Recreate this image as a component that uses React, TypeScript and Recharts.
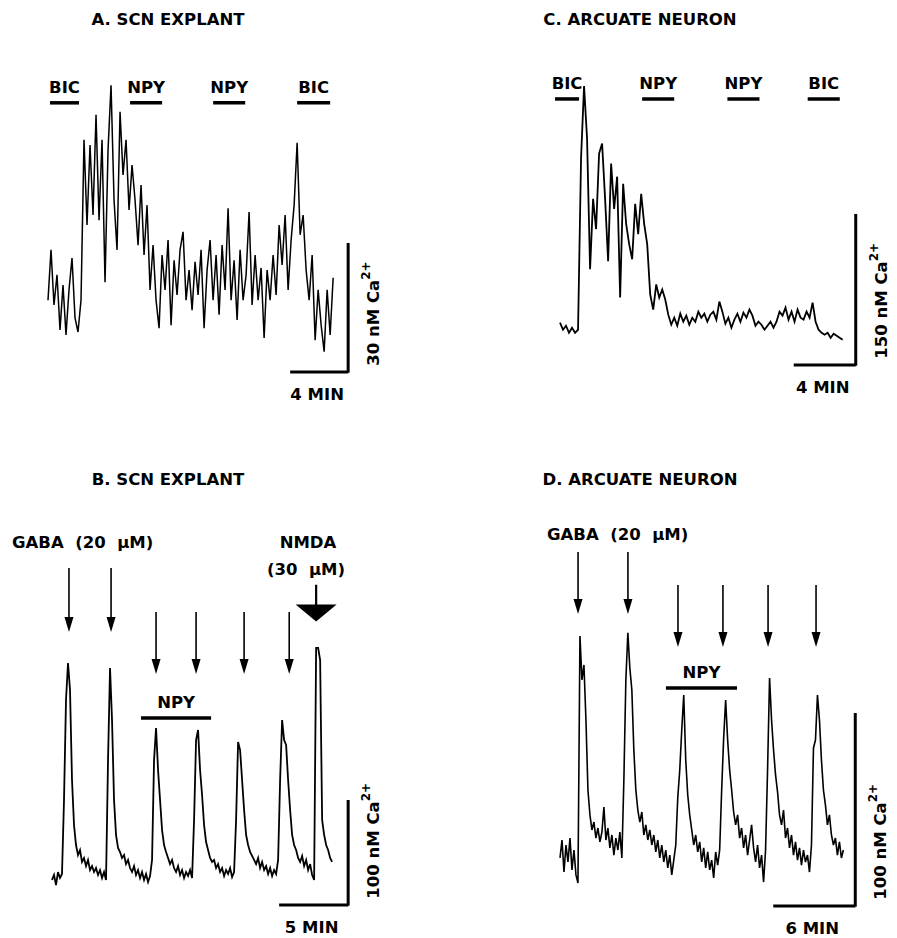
import { LineChart, Line, XAxis, YAxis, ReferenceLine } from 'recharts';

// Ca2+ traces. Values are nM Ca2+ above the origin of
// each panel's scale bar; samples are evenly spaced (dt in minutes).
const A_DT = 0.207;
const A_TRACE = [
  16.7, 28.4, 15.6, 22.6, 9.8, 20.2, 8.6, 19.1, 26.5, 12.6, 9.3, 16.7,
  54.0, 34.2, 52.8, 36.5, 59.8, 35.3, 54.0, 20.9, 51.6, 66.7, 40.0, 28.4, 60.5, 45.8, 54.0, 37.7, 48.1,
  40.0, 29.5, 43.5, 27.2, 38.8, 19.1, 29.5, 16.7, 10.2, 27.2, 19.1, 30.7, 10.9, 26.0, 17.9, 28.4, 32.6,
  16.7, 23.7, 14.4, 25.6, 17.9, 28.4, 10.2, 23.7, 30.7, 16.7, 27.2, 13.3, 29.5, 19.1, 38.1, 16.7, 26.0,
  12.1, 28.4, 16.7, 22.6, 37.2, 15.6, 27.2, 16.7, 24.2, 7.9, 23.7, 16.7, 27.2, 17.9, 34.2, 24.9, 36.5,
  19.1, 30.7, 38.8, 53.3, 31.9, 36.5, 23.7, 16.7, 27.2, 7.4, 19.1, 10.9, 4.7, 19.1, 8.6, 21.9,
];

const C_DT = 0.194;
const C_TRACE = [
  42, 35, 39, 32, 37, 32, 35,
  205, 277, 225, 95, 165, 135, 210, 220, 165, 103, 200, 155, 187, 67, 180, 140, 120, 105, 160, 130, 170, 140, 120, 70,
  55, 80, 67, 75, 65, 50, 40, 47, 39, 51, 43, 49, 40, 47, 43, 53, 47, 51, 43, 50, 53, 45, 63, 53,
  41, 47, 37, 45, 51, 43, 52, 47, 55, 49, 39, 43, 40, 35, 39, 43, 37, 43, 53, 49, 57, 45, 53, 43,
  55, 47, 45, 53, 47, 62, 43, 35, 32, 30, 32, 27, 31, 29, 27, 25,
];

const B_DT = 0.145;
const B_TRACE = [
  23.8, 28.6, 19.0, 31.4, 25.7, 29.5,
  100.0, 195.2, 230.5, 204.8, 119.0, 76.2, 57.1, 47.6, 52.4, 41.0, 44.8, 37.1, 42.9, 33.3, 37.1, 31.4, 35.2, 28.6, 33.3, 25.7, 31.4, 23.8,
  138.1, 225.7, 176.2, 100.0, 66.7, 54.3, 50.5, 44.8, 47.6, 39.0, 42.9, 35.2, 31.4, 37.1, 28.6, 33.3, 25.7, 31.4, 23.8, 29.5, 21.9, 27.6,
  42.9, 138.1, 168.6, 128.6, 100.0, 71.4, 57.1, 50.5, 44.8, 39.0, 42.9, 35.2, 31.4, 37.1, 28.6, 33.3, 25.7, 31.4, 27.6, 33.3, 25.7,
  81.0, 157.1, 166.7, 128.6, 104.8, 76.2, 60.0, 52.4, 44.8, 41.0, 42.9, 35.2, 39.0, 31.4, 35.2, 27.6, 33.3, 29.5, 35.2, 26.7, 31.4,
  81.0, 155.2, 147.6, 119.0, 90.5, 66.7, 57.1, 50.5, 46.7, 42.9, 39.0, 44.8, 35.2, 41.0, 33.3, 37.1, 29.5, 35.2, 27.6, 33.3, 29.5, 42.9,
  119.0, 176.2, 157.1, 152.4, 119.0, 90.5, 66.7, 57.1, 52.4, 44.8, 41.0, 46.7, 37.1, 42.9, 33.3, 39.0, 28.6, 23.8,
  244.8, 244.8, 233.3, 81.0, 66.7, 57.1, 52.4, 44.8, 41.0,
];

const D_DT = 0.146;
const D_TRACE = [
  24.9, 34.2, 17.6, 31.6, 22.8, 35.2, 18.7, 29.0, 16.1, 11.9,
  139.9, 117.1, 124.9, 96.4, 60.1, 47.2, 39.4, 43.5, 35.2, 40.4, 33.2, 38.3, 51.3, 34.2, 40.4, 30.1, 36.8, 26.4, 35.2, 29.0, 38.3, 24.9,
  65.3, 117.1, 141.5, 123.3, 111.9, 80.8, 60.1, 49.7, 43.5, 48.7, 36.8, 42.0, 34.2, 39.4, 31.6, 36.8, 28.0, 34.2, 24.9, 31.6, 22.8, 29.0, 19.7, 26.4, 16.1, 23.8,
  31.6, 56.0, 70.5, 91.2, 109.3, 75.6, 57.5, 47.2, 39.4, 31.6, 36.8, 28.0, 33.2, 22.8, 30.1, 19.7, 28.0, 18.7, 23.8, 14.5, 28.0, 21.2, 29.0,
  60.1, 87.0, 106.7, 86.0, 70.5, 60.1, 48.7, 42.0, 47.2, 35.2, 40.4, 30.1, 36.8, 26.4, 34.2, 42.0, 30.1, 22.8, 31.6, 19.7, 26.4, 12.4, 29.0,
  70.5, 118.1, 96.4, 80.8, 67.9, 59.1, 47.2, 42.0, 49.7, 35.2, 40.4, 30.1, 36.8, 26.4, 33.2, 23.8, 30.1, 21.2, 29.0, 22.8, 26.4, 17.6, 31.6,
  81.9, 86.0, 109.3, 96.4, 75.6, 60.1, 52.3, 42.0, 47.2, 36.8, 31.6, 35.2, 26.4, 33.2, 24.9, 29.0,
];

// drug applications (minutes)
const A_DRUGS = [
  { label: 'BIC', from: 0.14, to: 2.14 },
  { label: 'NPY', from: 5.66, to: 7.87 },
  { label: 'NPY', from: 11.39, to: 13.6 },
  { label: 'BIC', from: 17.18, to: 19.46 },
];
const C_DRUGS = [
  { label: 'BIC', from: -0.32, to: 1.23 },
  { label: 'NPY', from: 5.3, to: 7.37 },
  { label: 'NPY', from: 10.8, to: 12.87 },
  { label: 'BIC', from: 15.98, to: 18.05 },
];
const B_DRUGS = [{ label: 'NPY', from: 6.45, to: 11.53 }];
const D_DRUGS = [{ label: 'NPY', from: 7.75, to: 12.95 }];

// GABA pulses (minutes)
const B_GABA = [1.23, 4.28];
const B_PULSES = [7.54, 10.44, 13.92, 17.19];
const B_NMDA = 19.14;
const D_GABA = [1.32, 4.97];
const D_PULSES = [8.63, 11.92, 15.22, 18.73];

// scale bars: [minutes, nM]
const A_SCALE = [4, 30];
const C_SCALE = [4, 150];
const B_SCALE = [5, 100];
const D_SCALE = [6, 100];

const FONT = '"DejaVu Sans", Verdana, sans-serif';
const TXT = { fontFamily: FONT, fontWeight: 700, fontSize: 16.5, fill: '#000' };

type Frame = {
  left: number; top: number; w: number; h: number;
  x0: number; y0: number; kx: number; ky: number;
  scaleAt: number; barAt: number; lw: number;
};

const FA: Frame = { left: 0, top: 0, w: 448, h: 469, x0: 48, y0: 372, kx: 14.5, ky: 4.3, scaleAt: 20.7, barAt: 62.6, lw: 1.5 };
const FC: Frame = { left: 448, top: 0, w: 449, h: 469, x0: 560, y0: 365, kx: 15.5, ky: 1.007, scaleAt: 19.08, barAt: 264.2, lw: 1.8 };
const FB: Frame = { left: 0, top: 469, w: 448, h: 469, x0: 52, y0: 905, kx: 13.8, ky: 1.05, scaleAt: 21.46, barAt: 178.1, lw: 1.8 };
const FD: Frame = { left: 448, top: 469, w: 449, h: 469, x0: 560, y0: 906, kx: 13.67, ky: 1.93, scaleAt: 21.6, barAt: 113, lw: 1.6 };

const series = (vals: number[], dt: number) => vals.map((v, i) => ({ t: +(i * dt).toFixed(3), v }));

const drugLabel = (text: string) => (p: any) => {
  const { x, y, width } = p.viewBox;
  return (
    <text x={x + width / 2} y={y - 10} textAnchor="middle" style={TXT}>
      {text}
    </text>
  );
};

const timeLabel = (text: string) => (p: any) => {
  const { x, y, width } = p.viewBox;
  return (
    <text x={x + width / 2 - 2} y={y + 28} textAnchor="middle" style={TXT}>
      {text}
    </text>
  );
};

const concLabel = (nM: number) => (p: any) => {
  const { x, y, height } = p.viewBox;
  return (
    <text transform={`translate(${x + 31},${y + height - 7}) rotate(-90)`} style={TXT}>
      {nM} nM Ca
      <tspan dy={-9} fontSize={12}>2+</tspan>
    </text>
  );
};

const arrow = (headW: number, headH: number, stem: number) => (p: any) => {
  const { x1, y1, x2, y2 } = p;
  return (
    <g>
      <line x1={x1} y1={y1} x2={x2} y2={y2 - headH + 1} stroke="#000" strokeWidth={stem} />
      <polygon points={`${x2 - headW / 2},${y2 - headH} ${x2 + headW / 2},${y2 - headH} ${x2},${y2}`} fill="#000" />
    </g>
  );
};

function drugBars(f: Frame, drugs: { label: string; from: number; to: number }[]) {
  return drugs.map((d, i) => (
    <ReferenceLine
      key={`drug${i}`}
      segment={[{ x: d.from, y: f.barAt }, { x: d.to, y: f.barAt }]}
      stroke="#000"
      strokeWidth={3.5}
      ifOverflow="visible"
      label={drugLabel(d.label)}
    />
  ));
}

function scaleBar(f: Frame, [min, nM]: number[]) {
  return [
    <ReferenceLine
      key="sx"
      segment={[{ x: f.scaleAt - min, y: 0 }, { x: f.scaleAt, y: 0 }]}
      stroke="#000"
      strokeWidth={3}
      ifOverflow="visible"
      label={timeLabel(`${min} MIN`)}
    />,
    <ReferenceLine
      key="sy"
      segment={[{ x: f.scaleAt, y: -0.7 / f.ky }, { x: f.scaleAt, y: nM }]}
      stroke="#000"
      strokeWidth={3}
      ifOverflow="visible"
      label={concLabel(nM)}
    />,
  ];
}

function arrows(times: number[], top: number, tip: number, key: string, shape: any) {
  return times.map((t, i) => (
    <ReferenceLine
      key={`${key}${i}`}
      segment={[{ x: t, y: top }, { x: t, y: tip }]}
      ifOverflow="visible"
      shape={shape}
    />
  ));
}

function Trace({ f, data, children }: { f: Frame; data: { t: number; v: number }[]; children?: any }) {
  const xDom = [(f.left - f.x0) / f.kx, (f.left + f.w - f.x0) / f.kx];
  const yDom = [(f.y0 - (f.top + f.h)) / f.ky, (f.y0 - f.top) / f.ky];
  return (
    <div style={{ position: 'absolute', left: f.left, top: f.top }}>
      <LineChart width={f.w} height={f.h} data={data} margin={{ top: 0, right: 0, bottom: 0, left: 0 }}>
        <XAxis dataKey="t" type="number" domain={xDom} hide allowDataOverflow />
        <YAxis type="number" domain={yDom} hide allowDataOverflow />
        <Line
          type="linear"
          dataKey="v"
          stroke="#000"
          strokeWidth={f.lw}
          strokeLinejoin="miter"
          dot={false}
          activeDot={false}
          isAnimationActive={false}
        />
        {children}
      </LineChart>
    </div>
  );
}

function Caption({ x, y, text, center = true }: { x: number; y: number; text: string; center?: boolean }) {
  const style: any = {
    position: 'absolute',
    top: y - 10,
    lineHeight: '20px',
    fontFamily: FONT,
    fontWeight: 700,
    fontSize: 16.5,
    whiteSpace: 'pre',
    color: '#000',
  };
  if (center) {
    style.left = x - 200;
    style.width = 400;
    style.textAlign = 'center';
  } else {
    style.left = x;
  }
  return <div style={style}>{text}</div>;
}

const small = arrow(9, 15, 1.6);
const big = arrow(41, 17, 2.2);

export default function App() {
  return (
    <div style={{ position: 'absolute', left: 0, top: 0, width: 897, height: 938, background: '#fff', overflow: 'hidden' }}>
      <Caption x={168} y={20} text="A. SCN EXPLANT" />
      <Caption x={640} y={20} text="C. ARCUATE NEURON" />
      <Caption x={168} y={480} text="B. SCN EXPLANT" />
      <Caption x={640} y={480} text="D. ARCUATE NEURON" />
      <Caption x={12} y={543} text="GABA  (20  μM)" center={false} />
      <Caption x={308} y={543} text="NMDA" />
      <Caption x={306} y={570} text="(30  μM)" />
      <Caption x={547} y={535} text="GABA  (20  μM)" center={false} />

      <Trace f={FA} data={series(A_TRACE, A_DT)}>
        {drugBars(FA, A_DRUGS)}
        {scaleBar(FA, A_SCALE)}
      </Trace>
      <Trace f={FC} data={series(C_TRACE, C_DT)}>
        {drugBars(FC, C_DRUGS)}
        {scaleBar(FC, C_SCALE)}
      </Trace>
      <Trace f={FB} data={series(B_TRACE, B_DT)}>
        {drugBars(FB, B_DRUGS)}
        {scaleBar(FB, B_SCALE)}
        {arrows(B_GABA, 321, 260, 'g', small)}
        {arrows(B_PULSES, 279, 220, 'p', small)}
        {arrows([B_NMDA], 305, 270, 'n', big)}
      </Trace>
      <Trace f={FD} data={series(D_TRACE, D_DT)}>
        {drugBars(FD, D_DRUGS)}
        {scaleBar(FD, D_SCALE)}
        {arrows(D_GABA, 183.4, 151.3, 'g', small)}
        {arrows(D_PULSES, 166.3, 134.2, 'p', small)}
      </Trace>
    </div>
  );
}
